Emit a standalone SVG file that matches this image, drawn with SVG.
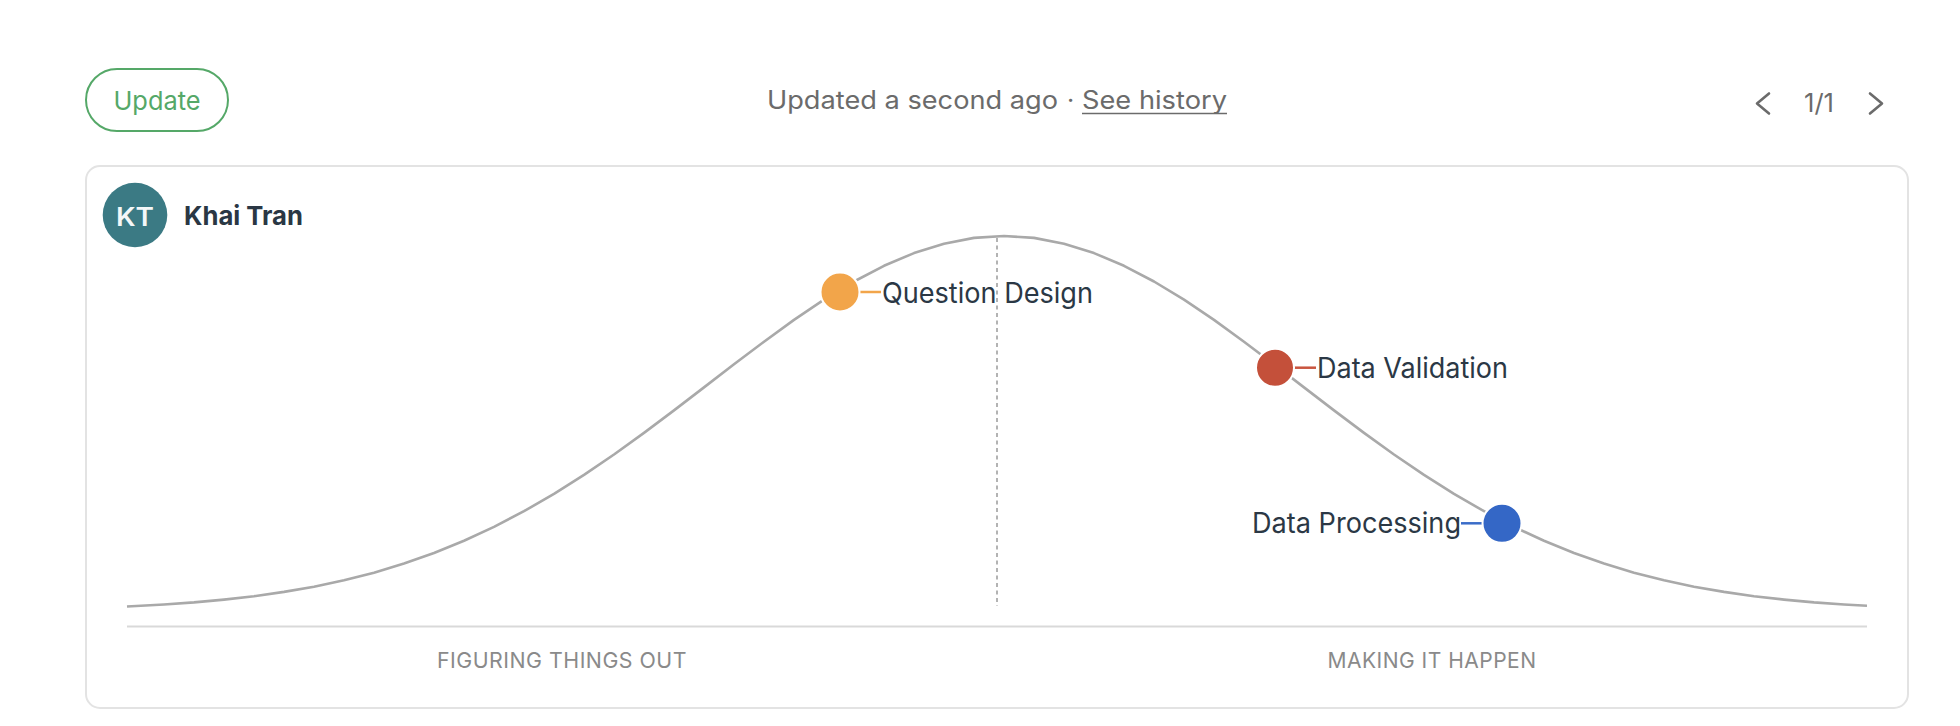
<svg xmlns="http://www.w3.org/2000/svg" width="1960" height="726" viewBox="0 0 1960 726">
<style>
  text { font-family: Inter, "Liberation Sans", "DejaVu Sans", sans-serif; }
  .meta { fill: #6b6b6b; font-size: 25px; }
  .lbl { fill: #2b3845; font-size: 28px; }
  .axis { fill: #8a8a8a; font-size: 22px; letter-spacing: 0.5px; }
  .dot { stroke: #ffffff; stroke-width: 2; }
  .conn { stroke-width: 2.5; fill: none; }
  .chev { fill: none; stroke: #6b6b6b; stroke-width: 2.6; stroke-linecap: round; stroke-linejoin: round; }
</style>
<rect x="0" y="0" width="1960" height="726" fill="#ffffff"/>

<g id="update-button">
  <rect x="86" y="69" width="142" height="62" rx="31" ry="31" fill="#ffffff" stroke="#55a868" stroke-width="2"/>
  <text x="157" y="110" text-anchor="middle" font-size="26" fill="#55a868" textLength="87" lengthAdjust="spacingAndGlyphs">Update</text>
</g>

<g id="status">
  <text class="meta" x="767" y="109" textLength="291" lengthAdjust="spacingAndGlyphs">Updated a second ago</text>
  <text class="meta" x="1070.5" y="109" text-anchor="middle">·</text>
  <text class="meta" x="1082" y="109" textLength="145" lengthAdjust="spacingAndGlyphs">See history</text>
  <line x1="1082" y1="113.5" x2="1227" y2="113.5" stroke="#6b6b6b" stroke-width="1.5"/>
</g>

<g id="pagination">
  <polyline class="chev" points="1769,93.5 1757,103.5 1769,113.5"/>
  <text class="meta" x="1804" y="111.5" textLength="30" lengthAdjust="spacingAndGlyphs">1/1</text>
  <polyline class="chev" points="1870,93.5 1882,103.5 1870,113.5"/>
</g>

<g id="card">
  <rect x="86" y="166" width="1822" height="542" rx="14" ry="14" fill="#ffffff" stroke="#e3e3e3" stroke-width="2"/>
</g>

<g id="user">
  <circle cx="135" cy="215" r="32.3" fill="#3b7a84"/>
  <text x="135" y="225.5" text-anchor="middle" font-size="26" font-weight="600" fill="#f4f7f8" textLength="38" lengthAdjust="spacingAndGlyphs">KT</text>
  <text x="184" y="225" font-size="26" font-weight="700" fill="#2a3744" textLength="119" lengthAdjust="spacingAndGlyphs">Khai Tran</text>
</g>

<g id="hill">
  <line x1="127" y1="626.5" x2="1867" y2="626.5" stroke="#d9d9d9" stroke-width="2"/>
  <line x1="997" y1="238" x2="997" y2="606" stroke="#9a9a9a" stroke-width="1.5" stroke-dasharray="4 3.5"/>
  <polyline fill="none" stroke="#a9a9a9" stroke-width="2.6" stroke-linejoin="round" stroke-linecap="butt" points="127,606.5 164,604.5 194,602.4 224,599.6 254,596.2 284,591.9 314,586.7 344,580.3 374,572.7 404,563.6 434,553.0 464,540.8 494,526.9 524,511.2 554,493.9 584,474.9 614,454.5 644,432.9 674,410.4 704,387.4 734,364.3 764,341.7 794,319.9 824,299.7 854,281.5 884,265.8 914,253.1 944,243.7 974,237.9 1004,236 1034,237.9 1064,243.7 1094,253.1 1124,265.8 1154,281.5 1184,299.7 1214,319.9 1244,341.7 1274,364.3 1304,387.4 1334,410.4 1364,432.9 1394,454.5 1424,474.9 1454,493.9 1484,511.2 1514,526.9 1544,540.8 1574,553.0 1604,563.6 1634,572.7 1664,580.3 1694,586.7 1724,591.9 1754,596.2 1784,599.6 1814,602.4 1844,604.5 1867,605.8"/>
  <text class="axis" x="562" y="668" text-anchor="middle" textLength="250" lengthAdjust="spacingAndGlyphs">FIGURING THINGS OUT</text>
  <text class="axis" x="1432" y="668" text-anchor="middle" textLength="209" lengthAdjust="spacingAndGlyphs">MAKING IT HAPPEN</text>
</g>

<g id="connectors">
  <line class="conn" x1="858" y1="292" x2="881" y2="292" stroke="#f2a54a"/>
  <line class="conn" x1="1292" y1="367.7" x2="1316" y2="367.7" stroke="#c9553f"/>
  <line class="conn" x1="1461" y1="523.3" x2="1484" y2="523.3" stroke="#3a6cc8"/>
</g>

<g id="node-question-design">
  <circle class="dot" cx="840" cy="292" r="19.5" fill="#f2a54a"/>
  <text class="lbl" x="882" y="303.3" textLength="211" lengthAdjust="spacingAndGlyphs">Question Design</text>
</g>

<g id="node-data-validation">
  <circle class="dot" cx="1275" cy="367.7" r="19" fill="#c4503a"/>
  <text class="lbl" x="1317" y="377.7" textLength="191" lengthAdjust="spacingAndGlyphs">Data Validation</text>
</g>

<g id="node-data-processing">
  <circle class="dot" cx="1502" cy="523.3" r="19.5" fill="#3467c6"/>
  <text class="lbl" x="1252" y="533.3" textLength="209" lengthAdjust="spacingAndGlyphs">Data Processing</text>
</g>
</svg>
